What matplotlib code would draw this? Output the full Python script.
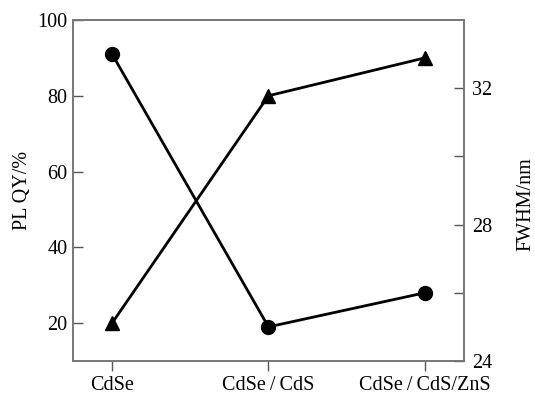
import matplotlib.pyplot as plt

plt.rcParams['font.family'] = ['Liberation Serif', 'DejaVu Serif']
plt.rcParams['font.size'] = 14.5

samples = ['CdSe', 'CdSe\u2009/\u2009CdS', 'CdSe\u2009/\u2009CdS/ZnS']
pl_qy = [20, 80, 90]      # triangles, left axis
fwhm = [33, 25, 26]       # circles, right axis

x = list(range(len(samples)))

fig = plt.figure(figsize=(5.35, 3.95), dpi=100)
ax = fig.add_axes([0.1364, 0.0861, 0.7308, 0.8633])
ax2 = ax.twinx()

ax.plot(x, pl_qy, color='black', lw=2, marker='^', ms=10, clip_on=False, zorder=3)
ax2.plot(x, fwhm, color='black', lw=2, marker='o', ms=10, clip_on=False, zorder=3)

ax.set_xlim(-0.25, 2.25)
ax.set_ylim(10, 100)
ax2.set_ylim(24, 34)

ax.set_xticks(x)
ax.set_xticklabels(samples)
ax.set_yticks([20, 40, 60, 80, 100])
ax2.set_yticks([24, 26, 28, 30, 32])
ax2.set_yticklabels(['24', '', '28', '', '32'])

ax.set_ylabel('PL QY/%', labelpad=4)
ax2.set_ylabel('FWHM/nm')
ax2.yaxis.set_label_coords(1.135, 0.46)

ax.tick_params(axis='y', direction='in', length=7, width=1, color='#555555', pad=4)
ax2.tick_params(axis='y', direction='in', length=7, width=1, color='#555555', pad=6)
ax.tick_params(axis='x', direction='out', length=7, width=1, color='#555555', pad=4)
for a in (ax, ax2):
    for s in a.spines.values():
        s.set_color('#777777')
        s.set_linewidth(1.2)

fig.savefig('out.png', dpi=100)
